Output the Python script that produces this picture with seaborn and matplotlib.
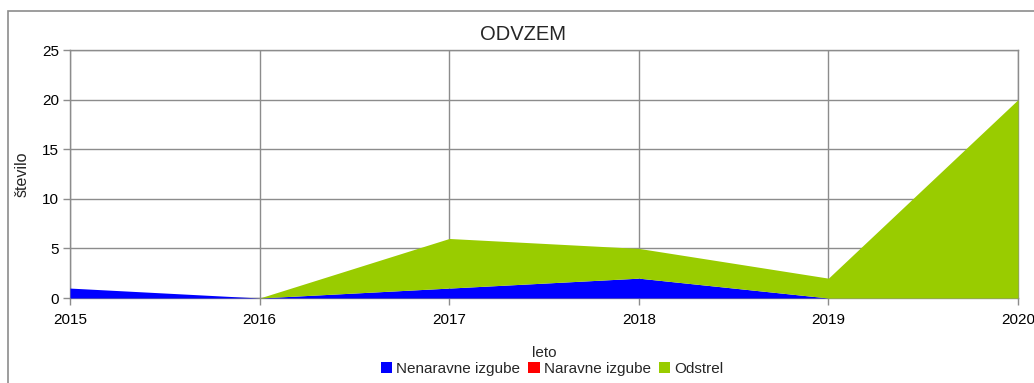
import matplotlib
matplotlib.use("Agg")
import matplotlib.pyplot as plt
from matplotlib.patches import Rectangle, Patch
import seaborn as sns
import pandas as pd

years = [2015, 2016, 2017, 2018, 2019, 2020]
nenaravne_izgube = [1, 0, 1, 2, 0, 0]
naravne_izgube = [0, 0, 0, 0, 0, 0]
odstrel = [0, 0, 5, 3, 2, 20]

series_names = ["Nenaravne izgube", "Naravne izgube", "Odstrel"]
colors = ["#0000ff", "#ff0000", "#99cc00"]
y_ticks = [0, 5, 10, 15, 20, 25]

df = pd.DataFrame({"leto": years,
                   series_names[0]: nenaravne_izgube,
                   series_names[1]: naravne_izgube,
                   series_names[2]: odstrel})

sns.set_theme(style="white")
plt.rcParams["font.family"] = ["Liberation Sans", "DejaVu Sans"]

fig = plt.figure(figsize=(10.34, 3.83), dpi=100)
ax = fig.add_axes([70 / 1034, 1 - 298 / 383, (1018 - 70) / 1034, (298 - 50) / 383])

# outer chart frame
fig.patches.append(Rectangle((8 / 1034, -0.2), 2.0, 1 - 11 / 383 + 0.2,
                             transform=fig.transFigure, fill=False,
                             edgecolor="#8c8c8c", linewidth=1.2, zorder=0))

ax.stackplot(df["leto"], [df[n] for n in series_names], colors=colors,
             linewidth=0, zorder=3)

grid_c = "#8c8c8c"
ax.set_xlim(years[0], years[-1])
ax.set_ylim(0, 25)
ax.set_xticks(years)
ax.set_yticks(y_ticks)
ax.grid(True, color=grid_c, linewidth=1.0, zorder=1)
ax.set_axisbelow(True)
for s in ax.spines.values():
    s.set_color(grid_c)
    s.set_linewidth(1.0)
ax.tick_params(axis="both", direction="out", length=5, width=1.0,
               color=grid_c, labelsize=11, labelcolor="black", pad=3)
ax.tick_params(axis="x", pad=6)
ax.tick_params(axis="both", bottom=True, left=True)

ax.set_ylabel("število", fontsize=11.5, labelpad=9)
fig.text(544 / 1034, 1 - 353 / 383, "leto", fontsize=11, ha="center", va="center")
fig.text(523 / 1034, 1 - 35 / 383, "ODVZEM", fontsize=14.5, ha="center", va="center")

handles = [Patch(facecolor=c, edgecolor="none") for c in colors]
fig.legend(handles, series_names, loc="center", bbox_to_anchor=(552 / 1034, 1 - 369 / 383),
           ncol=3, frameon=False, fontsize=11, handlelength=0.75, handleheight=0.75,
           handletextpad=0.25, columnspacing=0.55, borderpad=0)

fig.savefig("out.png", dpi=100, facecolor="white")
